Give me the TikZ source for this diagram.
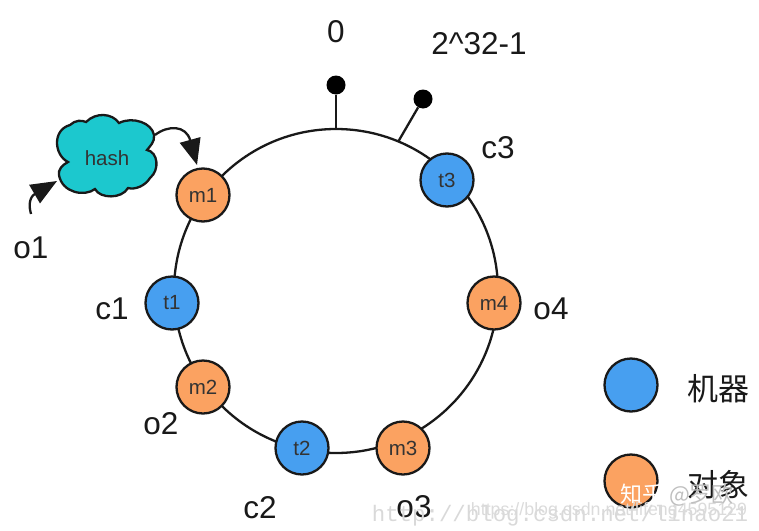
\documentclass[tikz,border=0pt]{standalone}
\usepackage{fontspec}
\setmainfont{Liberation Sans}
\newfontfamily\cjk{Noto Sans CJK SC}
\newfontfamily\wmserif{Liberation Mono}
\usetikzlibrary{arrows.meta}
\definecolor{orangefill}{HTML}{FBA261}
\definecolor{bluefill}{HTML}{479FF0}
\definecolor{cloudfill}{HTML}{1CC8CE}
\begin{document}
\begin{tikzpicture}[x=1pt,y=-1pt,
  ringline/.style={line width=2.3pt,black!90},
  peer/.style={circle,draw=black!90,line width=2.3pt,minimum size=53pt,inner sep=0pt,font=\fontsize{20.5}{20.5}\selectfont,text=black!80},
  mobj/.style={peer,fill=orangefill},
  tmach/.style={peer,fill=bluefill},
  lab/.style={inner sep=0pt,font=\fontsize{31.5}{31.5}\selectfont,text=black!90},
  cjklab/.style={inner sep=0pt,font=\cjk\fontsize{31}{31}\selectfont,text=black!90},
  tip/.style={circle,fill=black,inner sep=0pt,minimum size=19pt},
  flow/.style={line width=2.3pt,black!90,-{Triangle[length=26pt,width=21pt]}}]
\useasboundingbox (0,0) rectangle (759,530);
\coordinate (ctr) at (336,291);
\draw[ringline] (ctr) circle (162);
\node[tip] (tz) at (336,85) {};
\node[tip] (tm) at (423,99) {};
\coordinate (az) at (336,129);
\coordinate (am) at (398,142);
\draw[ringline] (tz) -- (az);
\draw[ringline] (tm) -- (am);
\node[mobj] (m1) at (203,195) {m1};
\node[tmach] (t1) at (172,303) {t1};
\node[mobj] (m2) at (203,387) {m2};
\node[tmach] (t2) at (302,448) {t2};
\node[mobj] (m3) at (403,448) {m3};
\node[mobj] (m4) at (494,303) {m4};
\node[tmach] (t3) at (447,180) {t3};
\node[tmach] (lega) at (631,385) {};
\node[mobj] (legb) at (631,481) {};
\node[lab] (l0) at (336,32) {0};
\node[lab] (l1) at (479,44) {2\^{}32-1};
\node[lab] (c3) at (498,148) {c3};
\node[lab] (c1) at (112,309) {c1};
\node[lab] (c2) at (260,508) {c2};
\node[lab] (o1) at (31,248) {o1};
\node[lab] (o2) at (161,424) {o2};
\node[lab] (o3) at (414,507) {o3};
\node[lab] (o4) at (551,309) {o4};
\node[cjklab] (jq) at (718,389) {机器};
\node[cjklab] (dx) at (718,485) {对象};
% cloud
\path[draw=black!90,line width=2.3pt,fill=cloudfill]
 (86,122) .. controls (96,112) and (112,113) .. (119,123)
 .. controls (133,116) and (152,123) .. (154,135)
 .. controls (155,142) and (150,146) .. (147,150)
 .. controls (158,152) and (160,170) .. (150,178)
 .. controls (145,186) and (135,190) .. (128,188)
 .. controls (122,199) and (100,199) .. (95,189)
 .. controls (85,197) and (62,193) .. (59,175)
 .. controls (58,170) and (62,165) .. (68,162)
 .. controls (54,155) and (52,130) .. (70,125)
 .. controls (75,120) and (82,120) .. (86,122) -- cycle;
\node[inner sep=0pt,font=\fontsize{20.5}{20.5}\selectfont,text=black!80] (hash) at (107,158) {hash};
\coordinate (o1s) at (31,214);
\coordinate (cl1) at (57,181);
\coordinate (cl2) at (155,135);
\coordinate (m1t) at (197,165);
\draw[flow] (o1s) .. controls (27,200) and (33,195) .. (cl1);
\draw[flow] (cl2) .. controls (168,125) and (186,125) .. (m1t);
% watermarks
\node[inner sep=0pt,font=\wmserif\fontsize{22.4}{22.4}\selectfont,text=black!15] (wa) at (560,516) {http://blog.csdn.net/linao21};
\node[inner sep=0pt,font=\fontsize{17.8}{17.8}\selectfont,text=black!14] (wb) at (609,511) {https://blog.csdn.net/lifeng4595129};
\node[inner sep=0pt,anchor=west,font=\cjk\fontsize{22}{22}\selectfont,text=white] (wc) at (620,495) {知乎 \textcolor{black!25}{@罗欧}};
\end{tikzpicture}
\end{document}
